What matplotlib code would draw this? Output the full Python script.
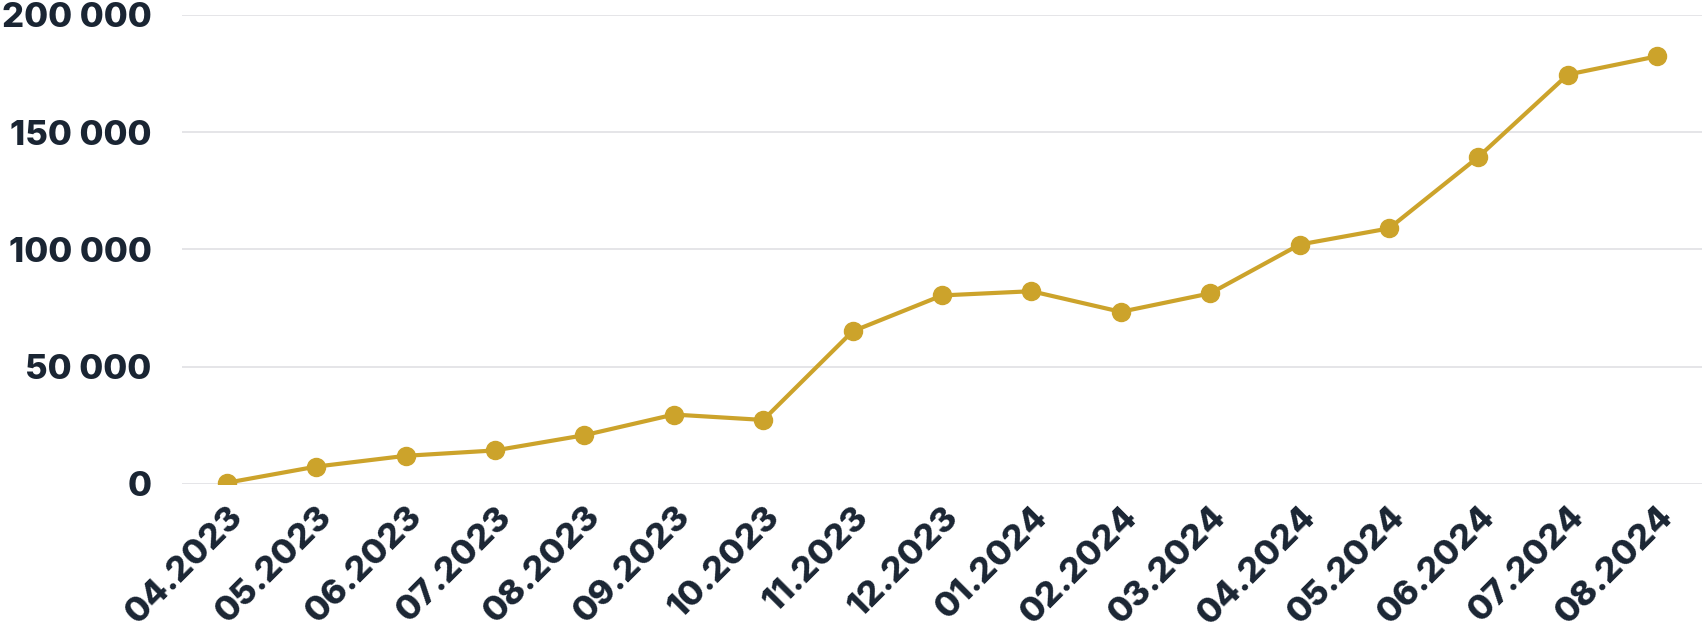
import matplotlib
matplotlib.use("Agg")
import matplotlib.pyplot as plt
from matplotlib.ticker import FuncFormatter

# Datos
meses = ["04.2023", "05.2023", "06.2023", "07.2023", "08.2023", "09.2023",
         "10.2023", "11.2023", "12.2023", "01.2024", "02.2024", "03.2024",
         "04.2024", "05.2024", "06.2024", "07.2024", "08.2024"]
valores = [500, 7400, 12000, 14300, 20800, 29600, 27300, 65100, 80400,
           82200, 73400, 81300, 102100, 109000, 139500, 174600, 182400]
y_ticks = [0, 50000, 100000, 150000, 200000]

COLOR_LINEA = "#cca32b"
COLOR_TEXTO = "#1a2533"

plt.rcParams['font.family'] = ['Inter', 'DejaVu Sans']

fig = plt.figure(figsize=(17.02, 6.41), dpi=100)
ax = fig.add_axes([0.107, 0.245, 0.893, 0.7316])

x = list(range(len(meses)))
ax.plot(x, valores, color=COLOR_LINEA, linewidth=3.0, marker='o', markersize=13, zorder=3)

ax.set_ylim(0, 200000)
ax.set_xlim(-0.5, len(meses) - 0.5)
ax.set_yticks(y_ticks)
ax.yaxis.set_major_formatter(FuncFormatter(lambda v, p: f"{int(v):,}".replace(",", " ")))
ax.set_xticks(x)
ax.set_xticklabels(meses, rotation=45, ha='right', va='top', rotation_mode='anchor')

ax.grid(axis='y', color='#e3e3e6', linewidth=1.3)
ax.set_axisbelow(True)
for s in ax.spines.values():
    s.set_visible(False)
ax.tick_params(axis='both', length=0, labelsize=25, labelcolor=COLOR_TEXTO)
ax.tick_params(axis='y', pad=22)
ax.tick_params(axis='x', pad=12)
for lbl in ax.get_xticklabels() + ax.get_yticklabels():
    lbl.set_fontweight(800)

fig.savefig("out.png", dpi=100, facecolor='white')
